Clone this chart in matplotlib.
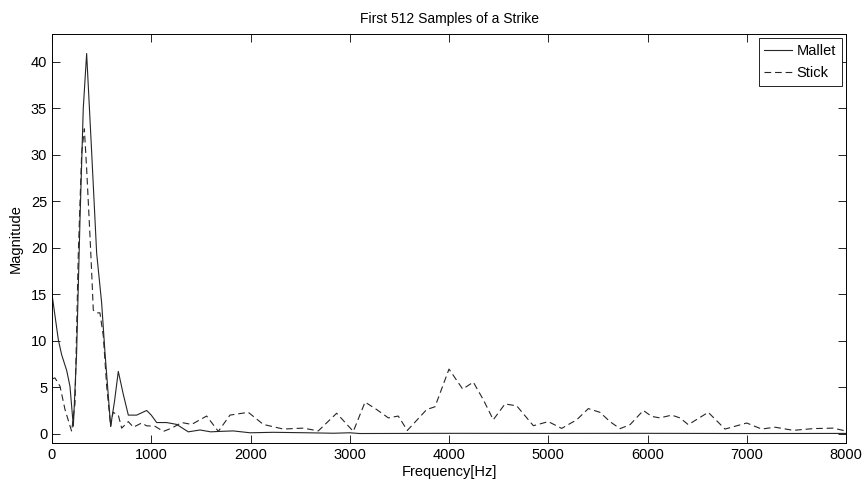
import numpy as np
import matplotlib
matplotlib.use("Agg")
import matplotlib.pyplot as plt

plt.rcParams['font.family'] = ['Liberation Sans', 'DejaVu Sans']

# Mallet spectrum
mallet_freq = [0, 64, 97, 148, 181, 215, 248, 282, 315, 349, 400, 450, 500, 534,
               591, 630, 668, 719, 769, 853, 954, 1000, 1055, 1155, 1256, 1373,
               1491, 1600, 1693, 1826, 1995, 2230, 2570, 2837, 3000, 3100, 4000,
               5000, 6000, 7000, 8000]
mallet_mag = [15.0, 10.1, 8.5, 6.8, 5.1, 0.8, 8.7, 23.0, 35.0, 40.9, 30.2, 19.4,
              14.1, 8.7, 0.8, 3.5, 6.7, 4.2, 2.0, 2.0, 2.5, 2.0, 1.2, 1.2, 1.0,
              0.2, 0.4, 0.2, 0.25, 0.3, 0.1, 0.15, 0.1, 0.05, 0.1, 0.02, 0.04,
              0.03, 0.04, 0.02, 0.03]

# Stick spectrum
stick_freq = [0, 30, 81, 131, 198, 232, 265, 299, 326, 349, 383, 400, 416, 450,
              483, 517, 551, 591, 615, 668, 702, 769, 820, 903, 953, 1037, 1122,
              1206, 1307, 1407, 1558, 1676, 1793, 1978, 2129, 2330, 2532, 2683,
              2868, 3036, 3154, 3271, 3389, 3489, 3580, 3775, 3859, 4000, 4138,
              4245, 4346, 4446, 4564, 4682, 4850, 5001, 5135, 5287, 5404, 5521,
              5622, 5723, 5824, 5958, 6042, 6126, 6244, 6327, 6411, 6612, 6781,
              7000, 7150, 7285, 7469, 7671, 7872, 7973, 8000]
stick_mag = [5.9, 6.0, 5.1, 2.6, 0.25, 3.3, 19.4, 30.2, 32.8, 28.5, 21.2, 17.3,
             13.3, 13.0, 13.0, 10.5, 5.1, 0.8, 2.3, 2.0, 0.6, 1.3, 0.7, 1.15,
             0.85, 0.8, 0.25, 0.6, 1.2, 1.0, 1.9, 0.25, 2.0, 2.3, 1.0, 0.5, 0.6,
             0.3, 2.2, 0.25, 3.4, 2.6, 1.7, 1.9, 0.35, 2.6, 2.9, 6.95, 4.8, 5.55,
             3.65, 1.5, 3.2, 3.0, 0.86, 1.3, 0.57, 1.5, 2.7, 2.3, 1.3, 0.54, 0.97,
             2.5, 1.86, 1.7, 2.0, 1.7, 0.97, 2.3, 0.5, 1.15, 0.5, 0.7, 0.36, 0.55,
             0.6, 0.35, 0.3]

fig = plt.figure(figsize=(8.64, 4.84), dpi=100)
ax = fig.add_axes([52/864, 1 - 443/484, 794/864, 409/484])

line_col = '#262626'
ax.plot(mallet_freq, mallet_mag, color=line_col, lw=0.8, label='Mallet')
ax.plot(stick_freq, stick_mag, color=line_col, lw=0.8, dashes=(6, 3.5),
        label='Stick')

ax.set_xlim(0, 8000)
ax.set_ylim(-1, 43)
ax.set_xticks(np.arange(0, 8001, 1000))
ax.set_yticks(np.arange(0, 41, 5))
ax.tick_params(direction='in', length=5.5, width=0.6, top=True, right=True,
               labelsize=10.5)
for s in ax.spines.values():
    s.set_linewidth(0.7)

ax.set_title('First 512 Samples of a Strike', fontsize=10, pad=8)
ax.set_xlabel('Frequency[Hz]', fontsize=10.5, labelpad=2)
ax.set_ylabel('Magnitude', fontsize=10.5, labelpad=6)

leg = ax.legend(loc='upper right', fontsize=10.5, handlelength=1.9,
                handletextpad=0.3, borderpad=0.4, labelspacing=0.55,
                fancybox=False, framealpha=1, borderaxespad=0.3)
leg.get_frame().set_edgecolor('k')
leg.get_frame().set_linewidth(0.6)

fig.savefig('out.png', dpi=100)
